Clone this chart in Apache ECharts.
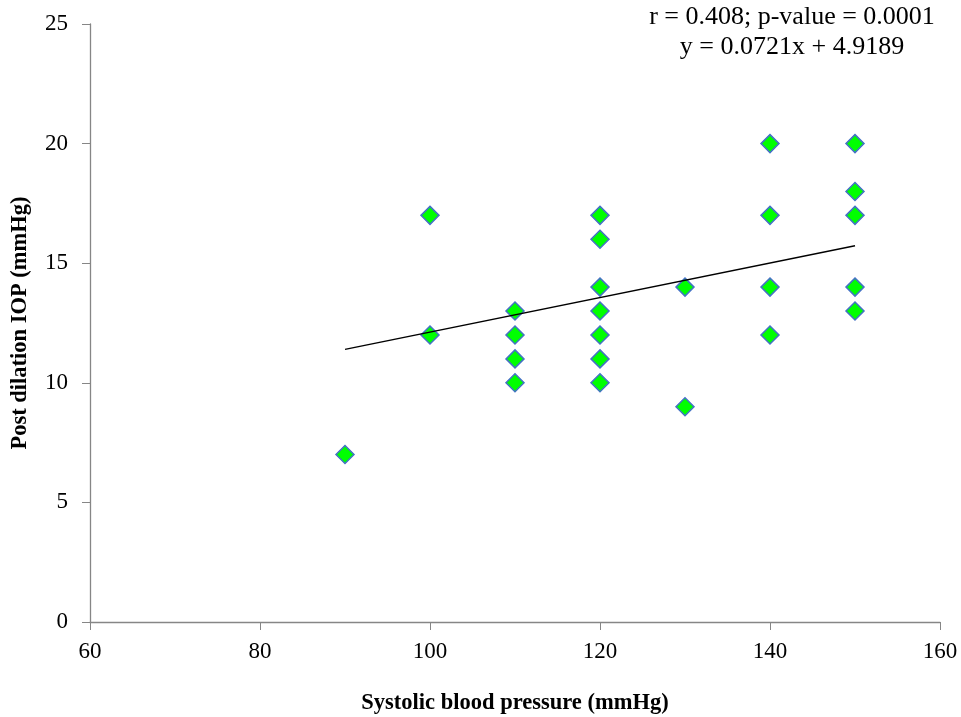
<!DOCTYPE html>
<html>
<head>
<meta charset="utf-8">
<script src="https://cdn.jsdelivr.net/npm/echarts@6/dist/echarts.min.js"></script>
<style>
html,body{margin:0;padding:0;background:#fff}
#chart{width:961px;height:717px}
</style>
</head>
<body>
<div id="chart"></div>
<script>
// systolic bp (x) and post dilation IOP (y)
var sbp=[90,100,100,110,110,110,110,120,120,120,120,120,120,120,130,130,140,140,140,140,150,150,150,150,150]
var iop=[7,17,12,13,12,11,10,17,16,14,13,12,11,10,14,9,20,17,14,12,20,18,17,14,13]
var trendX=[90,150]
var trendY=[11.4,15.73]
var xTicks=[60,80,100,120,140,160]
var yTicks=[0,5,10,15,20,25]

var pts=[]
for(var i=0;i<sbp.length;i++){
	pts.push([sbp[i],iop[i]])
}
var line=[]
for(var j=0;j<trendX.length;j++){
	line.push([trendX[j],trendY[j]])
}

var font="Liberation Serif"
var mychart=echarts.init(document.getElementById('chart'))
var option={
	animation:false,
	grid:{left:90,right:21,top:24,bottom:95,outerBoundsMode:'none'},
	graphic:[{
		type:'text',
		x:792,y:2,
		style:{
			text:'r = 0.408; p-value = 0.0001\ny = 0.0721x + 4.9189',
			fontFamily:font,fontSize:26,lineHeight:30,
			fill:'#000',textAlign:'center'
		}
	}],
	xAxis:{
		type:'value',
		min:xTicks[0],max:xTicks[xTicks.length-1],interval:20,
		name:'Systolic blood pressure (mmHg)',
		nameLocation:'middle',nameGap:70,
		nameTextStyle:{fontFamily:font,fontSize:22.5,fontWeight:'bold',color:'#000'},
		axisLine:{lineStyle:{color:'#868686',width:1.3}},
		axisTick:{show:true,length:8,lineStyle:{color:'#868686'}},
		axisLabel:{fontFamily:font,fontSize:23,color:'#000',margin:18},
		splitLine:{show:false}
	},
	yAxis:{
		type:'value',
		min:yTicks[0],max:yTicks[yTicks.length-1],interval:5,
		name:'Post dilation IOP (mmHg)',
		nameLocation:'middle',nameGap:58,
		nameTextStyle:{fontFamily:font,fontSize:22.5,fontWeight:'bold',color:'#000'},
		axisLine:{show:true,lineStyle:{color:'#868686',width:1.3}},
		axisTick:{show:true,length:8,lineStyle:{color:'#868686'}},
		axisLabel:{fontFamily:font,fontSize:23,color:'#000',margin:22},
		splitLine:{show:false}
	},
	series:[{
		type:'line',
		data:line,
		symbol:'none',
		lineStyle:{color:'#000',width:1.3},
		z:3
	},{
		type:'scatter',
		data:pts,
		symbol:'diamond',
		symbolSize:[18,18],
		itemStyle:{color:'#00ff00',borderColor:'#4472c4',borderWidth:1.5,opacity:1},
		z:2
	}]
}
mychart.setOption(option)
</script>
</body>
</html>
